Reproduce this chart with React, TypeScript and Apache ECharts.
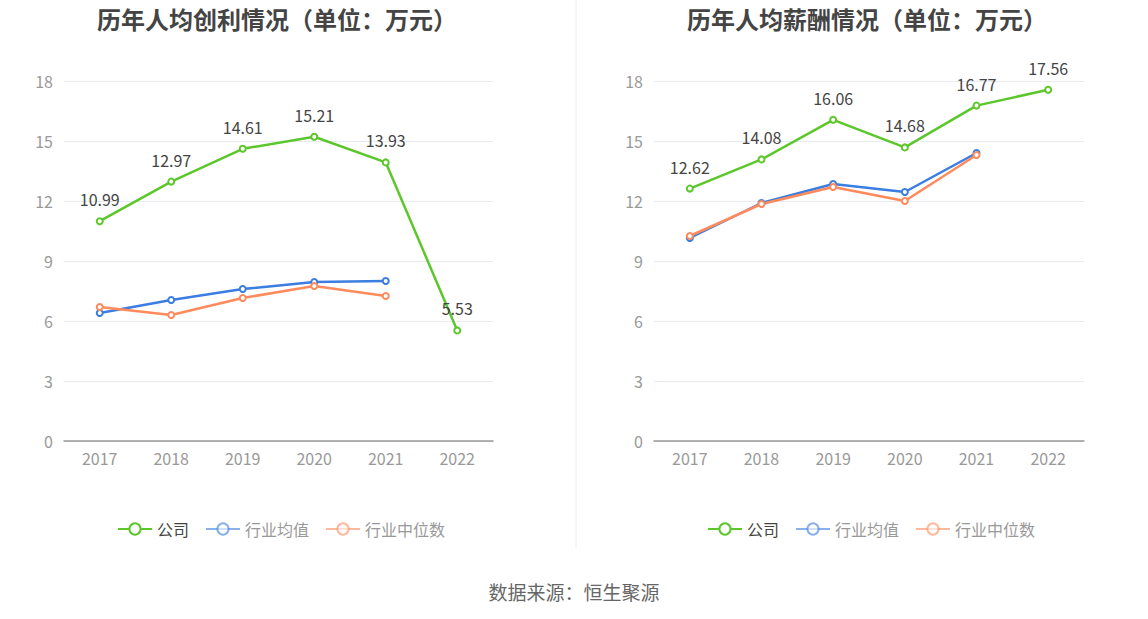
import React, { useEffect, useRef } from "react";
import * as echarts from "echarts";

const years = ["2017", "2018", "2019", "2020", "2021", "2022"];
const profitCompany = [10.99, 12.97, 14.61, 15.21, 13.93, 5.53];
const profitAvg = [6.4, 7.05, 7.6, 7.95, 8.0, null];
const profitMedian = [6.7, 6.3, 7.15, 7.75, 7.25, null];
const salaryCompany = [12.62, 14.08, 16.06, 14.68, 16.77, 17.56];
const salaryAvg = [10.15, 11.9, 12.85, 12.45, 14.4, null];
const salaryMedian = [10.25, 11.85, 12.7, 12.0, 14.3, null];
const seriesNames = ["公司", "行业均值", "行业中位数"];
const titles = ["历年人均创利情况（单位：万元）", "历年人均薪酬情况（单位：万元）"];
const source = "数据来源：恒生聚源";

const GREEN = "#5cc72a";
const BLUE = "#3b7de0";
const ORANGE = "#ff8a5c";
const FONT = "'Noto Sans CJK SC', 'Noto Sans', sans-serif";

export default function App() {
  const ref = useRef<HTMLDivElement>(null);
  useEffect(() => {
    document.body.style.margin = "0";
    const chart = echarts.init(ref.current!, null, { renderer: "svg" });
    const grids = [
      { left: 64, right: 655, top: 81, bottom: 178 },
      { left: 654, right: 64, top: 81, bottom: 178 },
    ];
    const xAxes = grids.map((_, i) => ({
      type: "category",
      gridIndex: i,
      data: years,
      boundaryGap: true,
      axisLine: { lineStyle: { color: "#999", width: 1.5 } },
      axisTick: { alignWithLabel: true, length: 5, lineStyle: { color: "#999" } },
      axisLabel: { color: "#999", fontSize: 16, margin: 9, fontFamily: FONT },
    }));
    const yAxes = grids.map((_, i) => ({
      type: "value",
      gridIndex: i,
      min: 0,
      max: 18,
      interval: 3,
      axisLine: { show: false },
      axisTick: { show: false },
      axisLabel: { color: "#999", fontSize: 16, margin: 11, fontFamily: FONT },
      splitLine: { lineStyle: { color: "#e8ebf3", width: 1 } },
    }));
    const mk = (name: string, data: any[], color: string, idx: number, label: boolean) => ({
      name,
      type: "line",
      xAxisIndex: idx,
      yAxisIndex: idx,
      data,
      symbol: "circle",
      symbolSize: 6,
      showAllSymbol: true,
      lineStyle: { color, width: 2.5 },
      itemStyle: { color: "#fff", borderColor: color, borderWidth: 2 },
      label: label
        ? { show: true, position: "top", distance: 10, color: "#444", fontSize: 16, fontFamily: FONT }
        : { show: false },
      z: label ? 3 : 2,
    });
    const legendData = [
      { name: "公司", textStyle: { color: "#444" } },
      { name: "行业均值", textStyle: { color: "#999" }, itemStyle: { opacity: 0.6 }, lineStyle: { opacity: 0.6 } },
      { name: "行业中位数", textStyle: { color: "#999" }, itemStyle: { opacity: 0.6 }, lineStyle: { opacity: 0.6 } },
    ];
    const legendCommon = { top: 516, itemWidth: 34, itemHeight: 14, itemGap: 16, textStyle: { fontSize: 16, fontFamily: FONT }, selectedMode: false };
    chart.setOption({
      animation: false,
      title: [
        { text: titles[0], left: 272, textAlign: "center", top: 1, textStyle: { fontSize: 24, fontWeight: "bold", color: "#444", fontFamily: FONT } },
        { text: titles[1], left: 862, textAlign: "center", top: 1, textStyle: { fontSize: 24, fontWeight: "bold", color: "#444", fontFamily: FONT } },
        { text: source, left: 569, textAlign: "center", top: 577, textStyle: { fontSize: 19, fontWeight: "normal", color: "#666", fontFamily: FONT } },
      ],
      legend: [
        { ...legendCommon, data: legendData, left: 112 },
        { ...legendCommon, data: legendData.map((d) => ({ ...d })), left: 702 },
      ],
      grid: grids,
      xAxis: xAxes,
      yAxis: yAxes,
      graphic: [
        { type: "line", shape: { x1: 576, y1: 0, x2: 576, y2: 548 }, style: { stroke: "#eeeeee", lineWidth: 1 } },
      ],
      series: [
        mk(seriesNames[0], profitCompany, GREEN, 0, true),
        mk(seriesNames[1], profitAvg, BLUE, 0, false),
        mk(seriesNames[2], profitMedian, ORANGE, 0, false),
        mk(seriesNames[0], salaryCompany, GREEN, 1, true),
        mk(seriesNames[1], salaryAvg, BLUE, 1, false),
        mk(seriesNames[2], salaryMedian, ORANGE, 1, false),
      ],
    });
    return () => chart.dispose();
  }, []);
  return <div ref={ref} style={{ position: "absolute", left: 0, top: 0, width: 1148, height: 619, background: "#fff" }} />;
}
